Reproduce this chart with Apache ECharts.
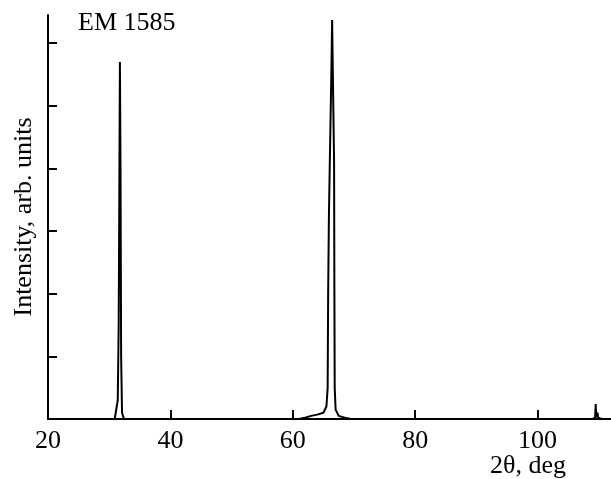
<!DOCTYPE html>
<html>
<head>
<meta charset="utf-8">
<script src="https://cdn.jsdelivr.net/npm/echarts@6/dist/echarts.min.js"></script>
<style>
  html, body { margin: 0; padding: 0; background: #fff; }
  #chart { width: 611px; height: 479px; }
</style>
</head>
<body>
<div id="chart"></div>
<script>
// 2theta positions (deg) and intensities (arb. units)
const twoTheta = [
  20, 30, 30.9, 31.2, 31.4, 31.55, 31.65, 31.75, 31.85, 31.95, 32.1, 32.4,
  61, 62, 63, 64, 65, 65.5, 65.7, 65.78, 65.9, 66.05, 66.3, 66.43, 66.55, 66.75, 66.8, 66.85, 67, 67.5, 68.5, 69.5,
  109, 109.4, 109.5, 109.6, 109.8, 109.9, 110.5, 112
];
const intensity = [
  0, 0, 0, 0.03, 0.3, 1.5, 3.5, 5.7, 4.0, 1.0, 0.1, 0,
  0, 0.02, 0.05, 0.07, 0.1, 0.2, 0.5, 2.0, 3.2, 4.1, 5.5, 6.37, 5.5, 4.1, 2.0, 0.5, 0.15, 0.05, 0.02, 0,
  0, 0.02, 0.24, 0.03, 0.1, 0.02, 0, 0
];
const xTicks = [20, 40, 60, 80, 100];
const yTicks = [0, 1, 2, 3, 4, 5, 6];
const sampleName = "EM 1585";

const font = "'Liberation Serif', 'DejaVu Serif', serif";
const chart = echarts.init(document.getElementById('chart'));

const points = twoTheta.map((x, i) => [x, intensity[i]]);

chart.setOption({
  animation: false,
  grid: { left: 48, right: 0, top: 15, bottom: 60, containLabel: false, outerBoundsMode: 'none' },
  xAxis: {
    type: 'value',
    min: 20,
    max: 112,
    interval: 20,
    axisLine: { lineStyle: { color: '#000', width: 2 } },
    axisTick: { inside: true, length: 9, customValues: xTicks, lineStyle: { color: '#000', width: 2 } },
    axisLabel: {
      color: '#000', fontFamily: font, fontSize: 26, margin: 9,
      customValues: xTicks
    },
    splitLine: { show: false }
  },
  yAxis: {
    type: 'value',
    min: 0,
    max: 6.45,
    interval: 1,
    name: 'Intensity, arb. units',
    nameLocation: 'middle',
    nameGap: 11,
    nameTextStyle: { color: '#000', fontFamily: font, fontSize: 26 },
    axisLine: { show: true, lineStyle: { color: '#000', width: 2 } },
    axisTick: { show: true, inside: true, length: 9, customValues: yTicks, lineStyle: { color: '#000', width: 2 } },
    axisLabel: { show: false },
    splitLine: { show: false }
  },
  graphic: [
    {
      type: 'text', left: 78, top: 10,
      style: { text: sampleName, fill: '#000', font: `26px ${font}` }
    },
    {
      type: 'text', right: 45, top: 453,
      style: { text: '2θ, deg', fill: '#000', font: `26px ${font}` }
    }
  ],
  series: [{
    type: 'line',
    data: points,
    showSymbol: false,
    lineStyle: { color: '#000', width: 2 }
  }]
});
</script>
</body>
</html>
